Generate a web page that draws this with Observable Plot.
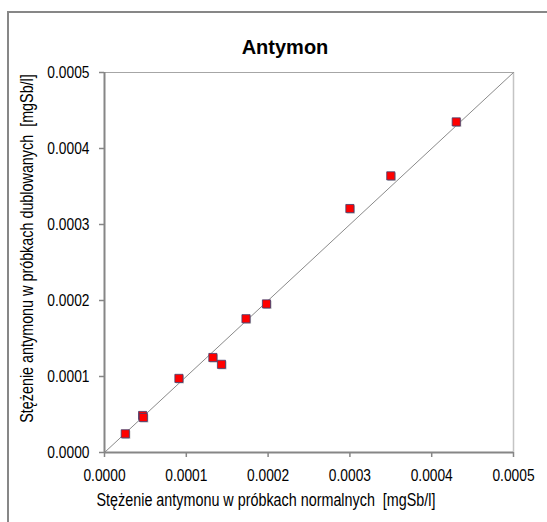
<!DOCTYPE html>
<html>
<head>
<meta charset="utf-8">
<script src="https://cdn.jsdelivr.net/npm/d3@7"></script>
<script src="https://cdn.jsdelivr.net/npm/@observablehq/plot@0.6"></script>
<style>
  html, body { margin: 0; padding: 0; background: #ffffff; }
  #wrap { position: relative; width: 547px; height: 522px; overflow: hidden; background: #ffffff; }
  #frame { position: absolute; left: 7px; top: 11px; width: 700px; height: 700px;
           border-left: 2px solid #878787; border-top: 2px solid #878787; }
  #chart { position: absolute; left: 0; top: 0; }
</style>
</head>
<body>
<div id="wrap">
  <div id="frame"></div>
  <div id="chart"></div>
</div>
<script>
// ---- data ----
const title = "Antymon";
const xLabel = "Stężenie antymonu w próbkach normalnych  [mgSb/l]";
const yLabel = "Stężenie antymonu w próbkach dublowanych  [mgSb/l]";
const normal    = [0.0000254, 0.0000466, 0.0000474, 0.0000910, 0.0001325, 0.0001430, 0.0001730, 0.0001980, 0.0003000, 0.0003500, 0.0004300];
const duplicate = [0.0000246, 0.0000487, 0.0000461, 0.0000975, 0.0001250, 0.0001160, 0.0001760, 0.0001955, 0.0003210, 0.0003640, 0.0004350];
const ticks = [0, 0.0001, 0.0002, 0.0003, 0.0004, 0.0005];
const identityLine = [0, 0.0005];

const points = normal.map((x, i) => ({x, y: duplicate[i]}));
const linePts = identityLine.map(v => ({x: v, y: v}));
const fmt = d3.format(".4f");
const sans = "'Liberation Sans', Arial, sans-serif";
const axisGray = "#868686";

const chart = Plot.plot({
  width: 547,
  height: 522,
  marginLeft: 104,
  marginRight: 34,
  marginTop: 72,
  marginBottom: 70,
  style: {fontFamily: sans, fontSize: "16.8px", color: "#000", background: "transparent", overflow: "visible"},
  x: {domain: [0, 0.0005], ticks, tickFormat: fmt},
  y: {domain: [0, 0.0005], ticks, tickFormat: fmt},
  marks: [
    // plot-area border (top and right)
    Plot.ruleY([0.0005], {stroke: "#a6a6a6", strokeWidth: 1}),
    Plot.ruleX([0.0005], {stroke: "#c4c4c4", strokeWidth: 1.5}),
    // identity line
    Plot.line(linePts, {x: "x", y: "y", stroke: "#8a8a8a", strokeWidth: 1}),
    // axes
    Plot.axisX({ticks, tickFormat: fmt, tickSize: 5, tickPadding: 12, stroke: axisGray, strokeWidth: 1.5, fontSize: 16.8, fill: "#000", label: null}),
    Plot.axisY({ticks, tickFormat: fmt, tickSize: 5, tickPadding: 10, stroke: axisGray, strokeWidth: 1.5, fontSize: 16.8, fill: "#000", label: null}),
    Plot.ruleY([0], {stroke: axisGray, strokeWidth: 2}),
    Plot.ruleX([0], {stroke: axisGray, strokeWidth: 2}),
    // markers (with slight shadow)
    Plot.dot(points, {x: "x", y: "y", symbol: "square", r: 4.6, fill: "#9a9a9a", fillOpacity: 0.6, stroke: "none", dx: 1, dy: 1}),
    Plot.dot(points, {x: "x", y: "y", symbol: "square", r: 4.6, fill: "#ff0000", stroke: "#3f3f6e", strokeWidth: 0.8}),
    // title & axis labels
    Plot.text([title], {frameAnchor: "top", textAnchor: "middle", lineAnchor: "middle", dx: -24, dy: -25,
      fontWeight: "bold", fontSize: 20, fill: "#000"}),
    Plot.text([xLabel], {frameAnchor: "bottom", textAnchor: "middle", lineAnchor: "middle", dx: -43, dy: 47.5,
      fontSize: 17.5, fill: "#000"}),
    Plot.text([yLabel], {frameAnchor: "left", textAnchor: "middle", lineAnchor: "middle", rotate: -90, dx: -77, dy: -14,
      fontSize: 17.5, fill: "#000"})
  ]
});
document.getElementById("chart").appendChild(chart);

// condensed (narrow) look for tick labels and axis titles, as in the reference
const narrowFactor = 0.82;
chart.querySelectorAll("text").forEach(t => {
  if (t.textContent === title) return;
  const tr = t.getAttribute("transform");
  if (tr) {
    t.setAttribute("transform", tr + ` scale(${narrowFactor},1)`);
  } else {
    const x = +(t.getAttribute("x") || 0), y = +(t.getAttribute("y") || 0);
    t.setAttribute("x", 0); t.setAttribute("y", 0);
    t.setAttribute("transform", `translate(${x},${y}) scale(${narrowFactor},1)`);
  }
});
</script>
</body>
</html>
